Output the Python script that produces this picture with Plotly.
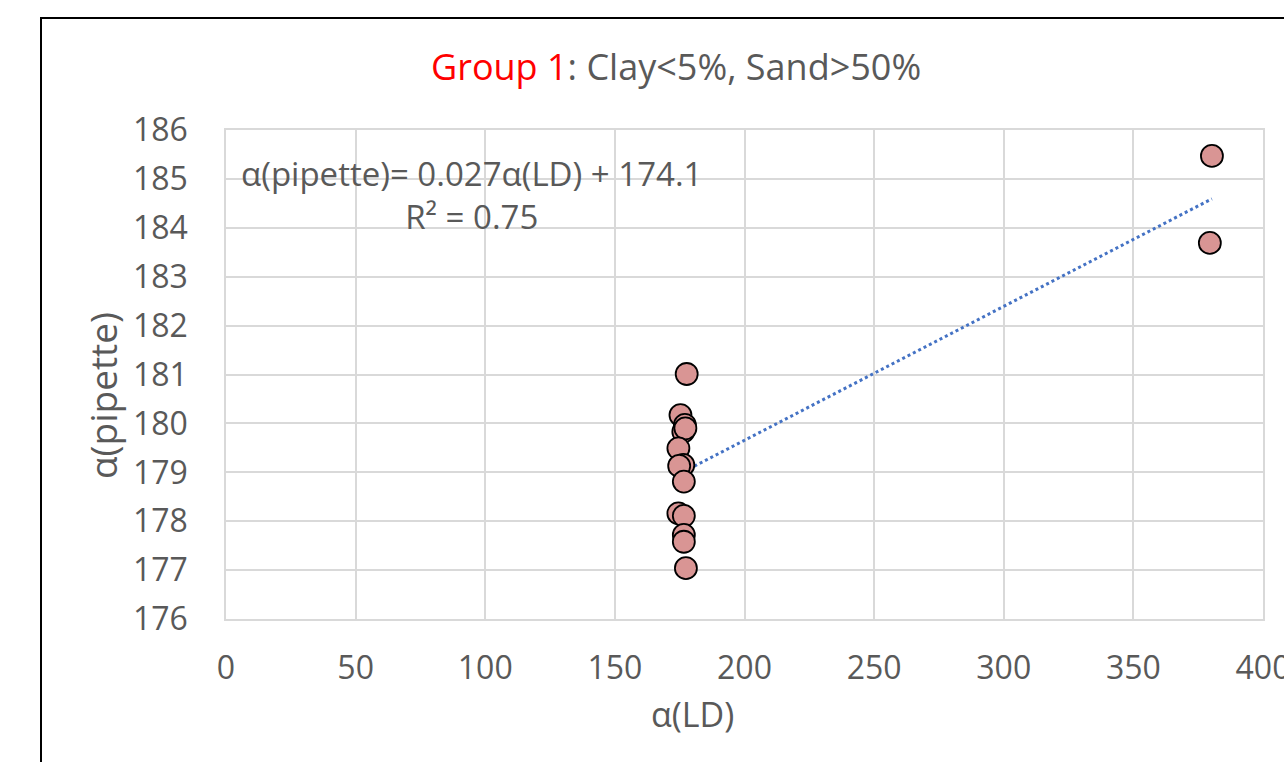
import numpy as np
import plotly.graph_objects as go

# Laser diffraction vs pipette values for group 1 samples
alpha_ld = [177.7, 175.3, 177.0, 176.4, 177.2, 174.5, 176.4, 174.8, 176.6,
            174.5, 176.6, 176.6, 176.6, 177.4, 380.3, 379.5]
alpha_pipette = [181.01, 180.17, 179.97, 179.83, 179.90, 179.49, 179.15, 179.13, 178.81,
                 178.16, 178.11, 177.72, 177.58, 177.04, 185.47, 183.69]

x_ticks = [0, 50, 100, 150, 200, 250, 300, 350, 400]
y_ticks = [176, 177, 178, 179, 180, 181, 182, 183, 184, 185, 186]

title_group = "Group 1"
title_rest = ": Clay<5%, Sand>50%"
equation_text = "α(pipette)= 0.027α(LD) + 174.1<br>R² = 0.75"

# Linear trendline over the data range
slope, intercept = np.polyfit(alpha_ld, alpha_pipette, 1)
xs = np.array([min(alpha_ld), max(alpha_ld)])
ys = slope * xs + intercept

W, H = 1284, 762
L, R, T, B = 226, 21, 130, 143
pw, ph = W - L - R, H - T - B


def px_x(p):
    return (p - L) / pw


def px_y(p):
    return (H - B - p) / ph


FONT = "Open Sans"
GRAY = "#595959"
GRID = "#d9d9d9"
TICK = 32

fig = go.Figure()
fig.add_trace(go.Scatter(
    x=xs, y=ys, mode="lines",
    line=dict(color="#4472C4", width=3, dash="dot"),
    hoverinfo="skip", showlegend=False,
))
fig.add_trace(go.Scatter(
    x=alpha_ld, y=alpha_pipette, mode="markers",
    marker=dict(size=22, color="#D99594", line=dict(color="black", width=1.8)),
    showlegend=False,
))

fig.update_layout(
    width=W, height=H,
    margin=dict(l=L, r=R, t=T, b=B, autoexpand=False),
    paper_bgcolor="white", plot_bgcolor="white",
    font=dict(family=FONT, color=GRAY, size=TICK),
    xaxis=dict(
        range=[0, 400], tickvals=x_ticks, showgrid=True, gridcolor=GRID, gridwidth=1.5,
        zeroline=False, showline=True, linecolor=GRID, linewidth=1.5, mirror=True,
        ticks="", ticklabelstandoff=20, ticklabeloverflow="allow", automargin=False,
        tickfont=dict(size=TICK, color=GRAY),
    ),
    yaxis=dict(
        range=[176, 186], tickvals=y_ticks, showgrid=True, gridcolor=GRID, gridwidth=1.5,
        zeroline=False, showline=True, linecolor=GRID, linewidth=1.5, mirror=True,
        ticks="", ticklabelstandoff=30, automargin=False,
        tickfont=dict(size=TICK, color=GRAY),
    ),
    shapes=[dict(
        type="rect", xref="paper", yref="paper",
        x0=px_x(41), x1=px_x(1300), y0=px_y(780), y1=px_y(18),
        line=dict(color="black", width=2), fillcolor="rgba(0,0,0,0)", layer="below",
    )],
    annotations=[
        dict(
            xref="paper", yref="paper", x=px_x(676), y=px_y(66),
            xanchor="center", yanchor="middle", showarrow=False,
            text=f"<span style='color:#FF0000'>{title_group}</span>{title_rest}",
            font=dict(size=36, color=GRAY, family=FONT),
        ),
        dict(
            xref="paper", yref="paper", x=px_x(471), y=px_y(195),
            xanchor="center", yanchor="middle", showarrow=False, align="center",
            text=equation_text, font=dict(size=33, color=GRAY, family=FONT),
        ),
        dict(
            xref="paper", yref="paper", x=px_x(692), y=px_y(714),
            xanchor="center", yanchor="middle", showarrow=False,
            text="α(LD)", font=dict(size=34, color=GRAY, family=FONT),
        ),
        dict(
            xref="paper", yref="paper", x=px_x(102), y=px_y(396),
            xanchor="center", yanchor="middle", showarrow=False, textangle=-90,
            text="α(pipette)", font=dict(size=37, color=GRAY, family=FONT),
        ),
    ],
)

fig.write_html("out.html")
